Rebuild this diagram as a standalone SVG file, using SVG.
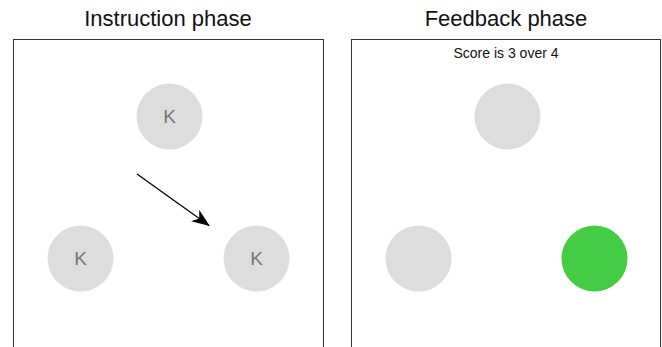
<svg xmlns="http://www.w3.org/2000/svg" width="662" height="347" viewBox="0 0 662 347">
<style>
.title{font-family:"Liberation Sans",Arial,sans-serif;font-size:22px;fill:#111;text-anchor:middle}
.panel{fill:#fff;stroke:#333;stroke-width:1}
.c{fill:#dddddd}
.k{font-family:"Liberation Sans",Arial,sans-serif;font-size:19px;fill:#777;text-anchor:middle;dominant-baseline:central}
.score{font-family:"Liberation Sans",Arial,sans-serif;font-size:14px;fill:#111;text-anchor:middle}
</style>
<defs>
<marker id="ah" viewBox="0 0 18 14" refX="17" refY="7" markerWidth="18" markerHeight="14" orient="auto" markerUnits="userSpaceOnUse">
<path d="M0,0 L18,7 L0,14 L5,7 z" fill="#000"/>
</marker>
</defs>
<rect width="662" height="347" fill="#fff"/>
<g id="instruction-panel">
<text class="title" x="168" y="26">Instruction phase</text>
<rect class="panel" x="13.5" y="39.5" width="310" height="320"/>
</g>
<g id="feedback-panel">
<text class="title" x="506" y="26">Feedback phase</text>
<rect class="panel" x="351.5" y="39.5" width="309" height="320"/>
<text class="score" x="506" y="58">Score is 3 over 4</text>
</g>
<g id="k-top"><circle class="c" cx="169.5" cy="116.5" r="33"/><text class="k" x="169.5" y="116.5">K</text></g>
<g id="k-left"><circle class="c" cx="80.5" cy="258.5" r="33"/><text class="k" x="80.5" y="258.5">K</text></g>
<g id="k-right"><circle class="c" cx="256.5" cy="258.5" r="33"/><text class="k" x="256.5" y="258.5">K</text></g>
<g id="f-top"><circle class="c" cx="507.5" cy="116.5" r="33"/></g>
<g id="f-left"><circle class="c" cx="418.5" cy="258.5" r="33"/></g>
<g id="f-right"><circle cx="594.5" cy="258.5" r="33" fill="#44cc44"/></g>
<g id="connectors">
<line x1="137" y1="174" x2="209" y2="225.5" stroke="#000" stroke-width="1.3" marker-end="url(#ah)"/>
</g>
</svg>
